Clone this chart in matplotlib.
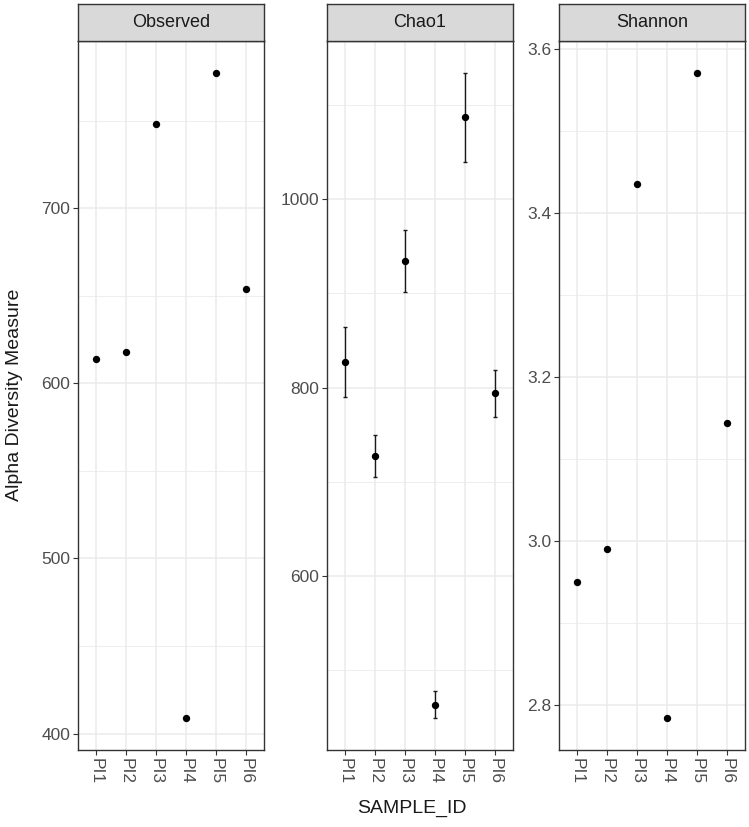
import matplotlib
matplotlib.use("Agg")
import matplotlib.pyplot as plt
from matplotlib.ticker import FixedLocator
import numpy as np

plt.rcParams['font.family'] = ['Liberation Sans', 'DejaVu Sans']

samples = ["PI1", "PI2", "PI3", "PI4", "PI5", "PI6"]
observed = [614, 618, 748, 409, 777, 654]
chao1 = [827, 727, 934, 463, 1087, 794]
chao1_se = [37, 22, 33, 14, 47, 25]
shannon = [2.950, 2.990, 3.435, 2.784, 3.570, 3.143]

panel_titles = ["Observed", "Chao1", "Shannon"]
major_ticks = [[400, 500, 600, 700], [600, 800, 1000], [2.8, 3.0, 3.2, 3.4, 3.6]]
minor_ticks = [[450, 550, 650, 750], [500, 700, 900, 1100], [2.9, 3.1, 3.3, 3.5]]
tick_fmt = ["{:.0f}", "{:.0f}", "{:.1f}"]

W, H = 749, 827
fig = plt.figure(figsize=(W / 100, H / 100), dpi=100)

panel_px = [(78, 264), (327, 513), (559, 745)]
top_px, bot_px = 41, 750
strip_top = 4

x = np.arange(len(samples))
grid_col = "#EBEBEB"
border_col = "#333333"

for i, (l, r) in enumerate(panel_px):
    ax = fig.add_axes([l / W, (H - bot_px) / H, (r - l) / W, (bot_px - top_px) / H])
    if i == 0:
        vals = np.array(observed, float)
        lo, hi = vals.min(), vals.max()
        ax.scatter(x, vals, s=28, color="black", zorder=3, linewidths=0)
    elif i == 1:
        vals = np.array(chao1, float)
        se = np.array(chao1_se, float)
        lo, hi = (vals - se).min(), (vals + se).max()
        ax.errorbar(x, vals, yerr=se, fmt="none", ecolor="#1A1A1A", elinewidth=1.0,
                    capsize=1.5, capthick=1.0, zorder=2)
        ax.scatter(x, vals, s=28, color="black", zorder=3, linewidths=0)
    else:
        vals = np.array(shannon, float)
        lo, hi = vals.min(), vals.max()
        ax.scatter(x, vals, s=28, color="black", zorder=3, linewidths=0)
    rng = hi - lo
    ax.set_ylim(lo - 0.05 * rng, hi + 0.05 * rng)
    ax.set_xlim(-0.6, len(samples) - 0.4)

    ax.set_xticks(x)
    ax.set_xticklabels(samples, rotation=-90, va="top", ha="center")
    ax.yaxis.set_major_locator(FixedLocator(major_ticks[i]))
    ax.set_yticklabels([tick_fmt[i].format(v) for v in major_ticks[i]])
    for v in major_ticks[i]:
        ax.axhline(v, color=grid_col, lw=1.1, zorder=0)
    for v in minor_ticks[i]:
        ax.axhline(v, color=grid_col, lw=0.6, zorder=0)
    for xv in x:
        ax.axvline(xv, color=grid_col, lw=1.1, zorder=0)

    ax.tick_params(axis="both", length=3.5, width=0.8, color=border_col,
                   labelsize=12.5, labelcolor="#4D4D4D", pad=2)
    for sp in ax.spines.values():
        sp.set_color(border_col)
        sp.set_linewidth(1.0)
    ax.set_facecolor("white")

    # strip
    sax = fig.add_axes([l / W, (H - top_px) / H, (r - l) / W, (top_px - strip_top) / H])
    sax.set_facecolor("#D9D9D9")
    sax.set_xticks([])
    sax.set_yticks([])
    for sp in sax.spines.values():
        sp.set_color(border_col)
        sp.set_linewidth(1.0)
    sax.text(0.5, 0.5, panel_titles[i], transform=sax.transAxes, ha="center",
             va="center", fontsize=13, color="#1A1A1A")

fig.text((78 + 745) / 2 / W, 1 - 808 / H, "SAMPLE_ID", ha="center", va="center",
         fontsize=14, color="#1A1A1A")
fig.text(15 / W, 1 - 395 / H, "Alpha Diversity Measure", ha="center", va="center",
         rotation=90, fontsize=14, color="#1A1A1A")

fig.savefig("out.png", dpi=100, facecolor="white")
